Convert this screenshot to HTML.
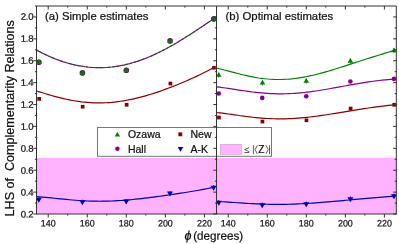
<!DOCTYPE html><html><head><meta charset="utf-8"><style>html,body{margin:0;padding:0;background:#fff}body{width:399px;height:244px;overflow:hidden}</style></head><body><div style="will-change:transform;position:absolute;left:0;top:0;width:399px;height:244px"><svg width="399" height="244" viewBox="0 0 399 244" style="display:block;font-family:'Liberation Sans',sans-serif"><style>text{stroke:#111;stroke-width:0.22px}</style>
<rect x="36.5" y="157.9" width="359.8" height="56.099999999999994" fill="#ffb3ff"/>
<defs><clipPath id="cl"><rect x="36.5" y="6.0" width="180.0" height="208.0"/></clipPath><clipPath id="cr"><rect x="216.5" y="6.0" width="179.8" height="208.0"/></clipPath></defs>
<circle cx="38.90" cy="62.20" r="2.8" fill="#7a007a"/>
<path d="M36.10,64.12 L41.70,64.12 L38.90,59.12Z" fill="#008a00"/>
<path d="M38.90,59.80 V64.60" stroke="#006400" stroke-width="0.6" fill="none"/>
<circle cx="82.40" cy="72.90" r="2.8" fill="#7a007a"/>
<path d="M79.60,74.82 L85.20,74.82 L82.40,69.82Z" fill="#008a00"/>
<path d="M82.40,70.50 V75.30" stroke="#006400" stroke-width="0.6" fill="none"/>
<circle cx="126.30" cy="70.30" r="2.8" fill="#7a007a"/>
<path d="M123.50,72.22 L129.10,72.22 L126.30,67.22Z" fill="#008a00"/>
<path d="M126.30,67.90 V72.70" stroke="#006400" stroke-width="0.6" fill="none"/>
<circle cx="170.05" cy="40.90" r="2.8" fill="#7a007a"/>
<path d="M167.25,42.82 L172.85,42.82 L170.05,37.82Z" fill="#008a00"/>
<path d="M170.05,38.50 V43.30" stroke="#006400" stroke-width="0.6" fill="none"/>
<circle cx="213.80" cy="18.90" r="2.8" fill="#7a007a"/>
<path d="M211.00,20.82 L216.60,20.82 L213.80,15.82Z" fill="#008a00"/>
<path d="M213.80,16.50 V21.30" stroke="#006400" stroke-width="0.6" fill="none"/>
<rect x="37.30" y="97.05" width="3.7" height="3.7" fill="#8b0000"/>
<rect x="80.80" y="104.85" width="3.7" height="3.7" fill="#8b0000"/>
<rect x="124.80" y="102.95" width="3.7" height="3.7" fill="#8b0000"/>
<rect x="168.55" y="81.70" width="3.7" height="3.7" fill="#8b0000"/>
<rect x="212.15" y="65.95" width="3.7" height="3.7" fill="#8b0000"/>
<path d="M38.75,197.30 V201.70" stroke="#0000b0" stroke-width="0.8" fill="none"/>
<path d="M35.75,197.83 L41.75,197.83 L38.75,202.83Z" fill="#0000b0"/>
<path d="M82.40,199.70 V204.10" stroke="#0000b0" stroke-width="0.8" fill="none"/>
<path d="M79.40,200.23 L85.40,200.23 L82.40,205.23Z" fill="#0000b0"/>
<path d="M126.25,199.00 V203.40" stroke="#0000b0" stroke-width="0.8" fill="none"/>
<path d="M123.25,199.53 L129.25,199.53 L126.25,204.53Z" fill="#0000b0"/>
<path d="M170.00,191.00 V195.40" stroke="#0000b0" stroke-width="0.8" fill="none"/>
<path d="M167.00,191.53 L173.00,191.53 L170.00,196.53Z" fill="#0000b0"/>
<path d="M213.60,185.10 V189.50" stroke="#0000b0" stroke-width="0.8" fill="none"/>
<path d="M210.60,185.63 L216.60,185.63 L213.60,190.63Z" fill="#0000b0"/>
<path d="M218.75,72.60 V77.80" stroke="#008000" stroke-width="0.8" fill="none"/>
<path d="M215.95,76.80 L221.55,76.80 L218.75,72.00Z" fill="#008000"/>
<path d="M262.50,80.40 V85.60" stroke="#008000" stroke-width="0.8" fill="none"/>
<path d="M259.70,84.60 L265.30,84.60 L262.50,79.80Z" fill="#008000"/>
<path d="M306.25,78.50 V83.70" stroke="#008000" stroke-width="0.8" fill="none"/>
<path d="M303.45,82.70 L309.05,82.70 L306.25,77.90Z" fill="#008000"/>
<path d="M350.40,58.50 V63.70" stroke="#008000" stroke-width="0.8" fill="none"/>
<path d="M347.60,62.70 L353.20,62.70 L350.40,57.90Z" fill="#008000"/>
<path d="M394.00,48.00 V53.20" stroke="#008000" stroke-width="0.8" fill="none"/>
<path d="M391.20,52.20 L396.80,52.20 L394.00,47.40Z" fill="#008000"/>
<circle cx="218.75" cy="93.50" r="2.3" fill="#8b008b"/>
<circle cx="262.25" cy="97.90" r="2.3" fill="#8b008b"/>
<circle cx="306.25" cy="96.25" r="2.3" fill="#8b008b"/>
<circle cx="350.40" cy="81.50" r="2.3" fill="#8b008b"/>
<circle cx="394.00" cy="78.90" r="2.3" fill="#8b008b"/>
<rect x="217.10" y="115.70" width="3.7" height="3.7" fill="#8b0000"/>
<rect x="260.60" y="119.70" width="3.7" height="3.7" fill="#8b0000"/>
<rect x="304.60" y="118.45" width="3.7" height="3.7" fill="#8b0000"/>
<rect x="348.75" y="106.70" width="3.7" height="3.7" fill="#8b0000"/>
<rect x="392.35" y="102.95" width="3.7" height="3.7" fill="#8b0000"/>
<path d="M218.75,200.10 V204.90" stroke="#0000b0" stroke-width="0.8" fill="none"/>
<path d="M215.75,200.83 L221.75,200.83 L218.75,205.83Z" fill="#0000b0"/>
<path d="M262.25,202.40 V207.20" stroke="#0000b0" stroke-width="0.8" fill="none"/>
<path d="M259.25,203.13 L265.25,203.13 L262.25,208.13Z" fill="#0000b0"/>
<path d="M306.25,201.50 V206.30" stroke="#0000b0" stroke-width="0.8" fill="none"/>
<path d="M303.25,202.23 L309.25,202.23 L306.25,207.23Z" fill="#0000b0"/>
<path d="M350.40,196.40 V201.20" stroke="#0000b0" stroke-width="0.8" fill="none"/>
<path d="M347.40,197.13 L353.40,197.13 L350.40,202.13Z" fill="#0000b0"/>
<path d="M394.00,193.40 V198.20" stroke="#0000b0" stroke-width="0.8" fill="none"/>
<path d="M391.00,194.13 L397.00,194.13 L394.00,199.13Z" fill="#0000b0"/>
<g clip-path="url(#cl)" fill="none" stroke-width="1.18">
<path d="M36.50,50.03 L39.51,51.64 L42.51,53.18 L45.52,54.64 L48.52,56.03 L51.53,57.34 L54.53,58.58 L57.54,59.74 L60.54,60.82 L63.55,61.83 L66.55,62.76 L69.56,63.60 L72.56,64.37 L75.57,65.06 L78.57,65.67 L81.58,66.20 L84.58,66.65 L87.59,67.01 L90.59,67.30 L93.60,67.50 L96.60,67.62 L99.61,67.66 L102.61,67.62 L105.62,67.49 L108.62,67.29 L111.63,67.00 L114.63,66.64 L117.64,66.19 L120.64,65.66 L123.65,65.06 L126.65,64.37 L129.66,63.61 L132.66,62.78 L135.67,61.87 L138.67,60.88 L141.68,59.82 L144.68,58.69 L147.69,57.50 L150.69,56.23 L153.70,54.90 L156.70,53.50 L159.71,52.05 L162.71,50.53 L165.72,48.96 L168.72,47.33 L171.73,45.66 L174.73,43.93 L177.74,42.16 L180.74,40.35 L183.75,38.50 L186.75,36.62 L189.76,34.70 L192.76,32.76 L195.77,30.80 L198.77,28.82 L201.78,26.83 L204.78,24.83 L207.79,22.82 L210.79,20.82 L213.80,18.83" stroke="#8b008b"/>
<path d="M36.50,50.03 L39.51,51.64 L42.51,53.18 L45.52,54.64 L48.52,56.03 L51.53,57.34 L54.53,58.58 L57.54,59.74 L60.54,60.82 L63.55,61.83 L66.55,62.76 L69.56,63.60 L72.56,64.37 L75.57,65.06 L78.57,65.67 L81.58,66.20 L84.58,66.65 L87.59,67.01 L90.59,67.30 L93.60,67.50 L96.60,67.62 L99.61,67.66 L102.61,67.62 L105.62,67.49 L108.62,67.29 L111.63,67.00 L114.63,66.64 L117.64,66.19 L120.64,65.66 L123.65,65.06 L126.65,64.37 L129.66,63.61 L132.66,62.78 L135.67,61.87 L138.67,60.88 L141.68,59.82 L144.68,58.69 L147.69,57.50 L150.69,56.23 L153.70,54.90 L156.70,53.50 L159.71,52.05 L162.71,50.53 L165.72,48.96 L168.72,47.33 L171.73,45.66 L174.73,43.93 L177.74,42.16 L180.74,40.35 L183.75,38.50 L186.75,36.62 L189.76,34.70 L192.76,32.76 L195.77,30.80 L198.77,28.82 L201.78,26.83 L204.78,24.83 L207.79,22.82 L210.79,20.82 L213.80,18.83" stroke="#007000" stroke-width="1.05" stroke-dasharray="2.0 2.4"/>
<path d="M36.50,90.96 L39.51,91.88 L42.51,92.80 L45.52,93.71 L48.52,94.61 L51.53,95.47 L54.53,96.31 L57.54,97.11 L60.54,97.88 L63.55,98.60 L66.55,99.27 L69.56,99.89 L72.56,100.46 L75.57,100.97 L78.57,101.43 L81.58,101.83 L84.58,102.16 L87.59,102.43 L90.59,102.64 L93.60,102.79 L96.60,102.87 L99.61,102.89 L102.61,102.85 L105.62,102.74 L108.62,102.57 L111.63,102.34 L114.63,102.04 L117.64,101.69 L120.64,101.28 L123.65,100.81 L126.65,100.28 L129.66,99.70 L132.66,99.07 L135.67,98.39 L138.67,97.66 L141.68,96.88 L144.68,96.06 L147.69,95.19 L150.69,94.28 L153.70,93.34 L156.70,92.35 L159.71,91.33 L162.71,90.27 L165.72,89.17 L168.72,88.05 L171.73,86.89 L174.73,85.71 L177.74,84.49 L180.74,83.24 L183.75,81.97 L186.75,80.67 L189.76,79.34 L192.76,77.98 L195.77,76.59 L198.77,75.17 L201.78,73.72 L204.78,72.24 L207.79,70.73 L210.79,69.18 L213.80,67.59" stroke="#8b0000"/>
<path d="M36.50,196.67 L39.51,196.85 L42.51,197.08 L45.52,197.34 L48.52,197.62 L51.53,197.92 L54.53,198.23 L57.54,198.54 L60.54,198.85 L63.55,199.16 L66.55,199.46 L69.56,199.74 L72.56,200.00 L75.57,200.24 L78.57,200.47 L81.58,200.66 L84.58,200.83 L87.59,200.97 L90.59,201.08 L93.60,201.16 L96.60,201.21 L99.61,201.23 L102.61,201.21 L105.62,201.17 L108.62,201.09 L111.63,200.99 L114.63,200.86 L117.64,200.69 L120.64,200.51 L123.65,200.29 L126.65,200.06 L129.66,199.79 L132.66,199.51 L135.67,199.21 L138.67,198.89 L141.68,198.55 L144.68,198.20 L147.69,197.83 L150.69,197.46 L153.70,197.07 L156.70,196.67 L159.71,196.26 L162.71,195.84 L165.72,195.41 L168.72,194.98 L171.73,194.54 L174.73,194.10 L177.74,193.65 L180.74,193.19 L183.75,192.72 L186.75,192.25 L189.76,191.77 L192.76,191.27 L195.77,190.76 L198.77,190.24 L201.78,189.69 L204.78,189.13 L207.79,188.54 L210.79,187.91 L213.80,187.26" stroke="#0000b0"/>
</g>
<g clip-path="url(#cr)" fill="none" stroke-width="1.18">
<path d="M216.50,68.01 L219.51,68.73 L222.52,69.48 L225.54,70.27 L228.55,71.08 L231.56,71.89 L234.57,72.69 L237.58,73.48 L240.59,74.24 L243.61,74.98 L246.62,75.67 L249.63,76.33 L252.64,76.93 L255.65,77.47 L258.67,77.96 L261.68,78.38 L264.69,78.74 L267.70,79.03 L270.71,79.25 L273.73,79.40 L276.74,79.47 L279.75,79.48 L282.76,79.42 L285.77,79.28 L288.78,79.08 L291.80,78.81 L294.81,78.47 L297.82,78.07 L300.83,77.61 L303.84,77.09 L306.86,76.52 L309.87,75.89 L312.88,75.22 L315.89,74.50 L318.90,73.74 L321.92,72.94 L324.93,72.11 L327.94,71.24 L330.95,70.35 L333.96,69.44 L336.97,68.50 L339.99,67.55 L343.00,66.59 L346.01,65.62 L349.02,64.64 L352.03,63.66 L355.05,62.68 L358.06,61.70 L361.07,60.73 L364.08,59.75 L367.09,58.79 L370.11,57.83 L373.12,56.89 L376.13,55.95 L379.14,55.02 L382.15,54.09 L385.16,53.17 L388.18,52.26 L391.19,51.35 L394.20,50.43" stroke="#008000"/>
<path d="M216.50,86.82 L219.51,87.17 L222.52,87.56 L225.54,87.99 L228.55,88.43 L231.56,88.89 L234.57,89.36 L237.58,89.84 L240.59,90.30 L243.61,90.75 L246.62,91.19 L249.63,91.60 L252.64,91.99 L255.65,92.35 L258.67,92.67 L261.68,92.96 L264.69,93.21 L267.70,93.42 L270.71,93.59 L273.73,93.71 L276.74,93.79 L279.75,93.82 L282.76,93.81 L285.77,93.76 L288.78,93.66 L291.80,93.51 L294.81,93.33 L297.82,93.10 L300.83,92.83 L303.84,92.53 L306.86,92.19 L309.87,91.82 L312.88,91.42 L315.89,90.98 L318.90,90.52 L321.92,90.04 L324.93,89.54 L327.94,89.02 L330.95,88.49 L333.96,87.95 L336.97,87.39 L339.99,86.84 L343.00,86.28 L346.01,85.72 L349.02,85.17 L352.03,84.63 L355.05,84.09 L358.06,83.57 L361.07,83.07 L364.08,82.58 L367.09,82.12 L370.11,81.68 L373.12,81.27 L376.13,80.89 L379.14,80.53 L382.15,80.21 L385.16,79.92 L388.18,79.67 L391.19,79.45 L394.20,79.27" stroke="#8b008b"/>
<path d="M216.50,112.49 L219.51,112.82 L222.52,113.19 L225.54,113.58 L228.55,114.00 L231.56,114.42 L234.57,114.86 L237.58,115.29 L240.59,115.72 L243.61,116.13 L246.62,116.53 L249.63,116.90 L252.64,117.25 L255.65,117.57 L258.67,117.87 L261.68,118.12 L264.69,118.34 L267.70,118.53 L270.71,118.67 L273.73,118.78 L276.74,118.84 L279.75,118.87 L282.76,118.85 L285.77,118.79 L288.78,118.70 L291.80,118.56 L294.81,118.39 L297.82,118.18 L300.83,117.94 L303.84,117.66 L306.86,117.35 L309.87,117.02 L312.88,116.66 L315.89,116.27 L318.90,115.86 L321.92,115.43 L324.93,114.98 L327.94,114.52 L330.95,114.04 L333.96,113.55 L336.97,113.06 L339.99,112.56 L343.00,112.06 L346.01,111.56 L349.02,111.06 L352.03,110.56 L355.05,110.07 L358.06,109.59 L361.07,109.12 L364.08,108.66 L367.09,108.21 L370.11,107.77 L373.12,107.35 L376.13,106.94 L379.14,106.55 L382.15,106.17 L385.16,105.81 L388.18,105.46 L391.19,105.12 L394.20,104.79" stroke="#8b0000"/>
<path d="M216.50,201.41 L219.51,201.56 L222.52,201.73 L225.54,201.92 L228.55,202.11 L231.56,202.32 L234.57,202.53 L237.58,202.73 L240.59,202.94 L243.61,203.13 L246.62,203.32 L249.63,203.50 L252.64,203.67 L255.65,203.82 L258.67,203.95 L261.68,204.07 L264.69,204.17 L267.70,204.25 L270.71,204.31 L273.73,204.34 L276.74,204.36 L279.75,204.36 L282.76,204.34 L285.77,204.29 L288.78,204.23 L291.80,204.14 L294.81,204.04 L297.82,203.92 L300.83,203.78 L303.84,203.62 L306.86,203.45 L309.87,203.26 L312.88,203.06 L315.89,202.85 L318.90,202.62 L321.92,202.39 L324.93,202.14 L327.94,201.89 L330.95,201.63 L333.96,201.36 L336.97,201.09 L339.99,200.82 L343.00,200.54 L346.01,200.27 L349.02,199.99 L352.03,199.71 L355.05,199.44 L358.06,199.16 L361.07,198.89 L364.08,198.62 L367.09,198.36 L370.11,198.10 L373.12,197.84 L376.13,197.59 L379.14,197.34 L382.15,197.09 L385.16,196.84 L388.18,196.60 L391.19,196.36 L394.20,196.11" stroke="#0000b0"/>
</g>
<rect x="97.5" y="127.5" width="174" height="28.8" fill="#fff" stroke="#777" stroke-width="1"/>
<path d="M114.70,136.53 L120.10,136.53 L117.40,131.93Z" fill="#008000"/>
<circle cx="117.40" cy="148.70" r="2.2" fill="#8b008b"/>
<rect x="178.35" y="132.35" width="3.9" height="3.9" fill="#8b0000"/>
<path d="M177.70,147.00 L183.30,147.00 L180.50,151.80Z" fill="#0000c8"/>
<g font-size="10.5px" fill="#111">
<text x="127.9" y="137.6">Ozawa</text>
<text x="127.9" y="152.7">Hall</text>
<text x="190.5" y="137.6">New</text>
<text x="190.5" y="152.7">A-K</text>
</g>
<rect x="220.3" y="144.3" width="21" height="10" fill="#ffb3ff" stroke="#c9a0c9" stroke-width="0.6"/>
<text x="244.2" y="152.5" font-size="9.4px" fill="#222" style="stroke:none">≤</text>
<text x="258.2" y="152.7" font-size="10.2px" fill="#111">Z</text>
<path d="M253.4,145.2 V154.0 M269.5,145.2 V154.0 M257.4,145.3 L255.1,149.6 L257.4,153.9 M265.9,145.3 L268.2,149.6 L265.9,153.9" fill="none" stroke="#333" stroke-width="0.8"/>
<g stroke="#333" stroke-width="1" fill="none">
<path d="M36.5,6.0 H396.3 V214.0 H36.5Z M35.0,6.0 H36.5"/>
<path d="M216.5,6.0 V214.0"/>
<path d="M37.2,214.00 h-3.9000000000000004 M217.2,214.00 h-3.9000000000000004 M397.0,214.00 h-3.9000000000000004 M37.2,203.05 h-2.3 M217.2,203.05 h-2.3 M397.0,203.05 h-2.3 M37.2,192.11 h-3.9000000000000004 M217.2,192.11 h-3.9000000000000004 M397.0,192.11 h-3.9000000000000004 M37.2,181.16 h-2.3 M217.2,181.16 h-2.3 M397.0,181.16 h-2.3 M37.2,170.21 h-3.9000000000000004 M217.2,170.21 h-3.9000000000000004 M397.0,170.21 h-3.9000000000000004 M37.2,159.27 h-2.3 M217.2,159.27 h-2.3 M397.0,159.27 h-2.3 M37.2,148.32 h-3.9000000000000004 M217.2,148.32 h-3.9000000000000004 M397.0,148.32 h-3.9000000000000004 M37.2,137.37 h-2.3 M217.2,137.37 h-2.3 M397.0,137.37 h-2.3 M37.2,126.42 h-3.9000000000000004 M217.2,126.42 h-3.9000000000000004 M397.0,126.42 h-3.9000000000000004 M37.2,115.48 h-2.3 M217.2,115.48 h-2.3 M397.0,115.48 h-2.3 M37.2,104.53 h-3.9000000000000004 M217.2,104.53 h-3.9000000000000004 M397.0,104.53 h-3.9000000000000004 M37.2,93.58 h-2.3 M217.2,93.58 h-2.3 M397.0,93.58 h-2.3 M37.2,82.64 h-3.9000000000000004 M217.2,82.64 h-3.9000000000000004 M397.0,82.64 h-3.9000000000000004 M37.2,71.69 h-2.3 M217.2,71.69 h-2.3 M397.0,71.69 h-2.3 M37.2,60.74 h-3.9000000000000004 M217.2,60.74 h-3.9000000000000004 M397.0,60.74 h-3.9000000000000004 M37.2,49.80 h-2.3 M217.2,49.80 h-2.3 M397.0,49.80 h-2.3 M37.2,38.85 h-3.9000000000000004 M217.2,38.85 h-3.9000000000000004 M397.0,38.85 h-3.9000000000000004 M37.2,27.90 h-2.3 M217.2,27.90 h-2.3 M397.0,27.90 h-2.3 M37.2,16.95 h-3.9000000000000004 M217.2,16.95 h-3.9000000000000004 M397.0,16.95 h-3.9000000000000004 M48.22,214.0 v3.5 M48.22,6.0 v3.5 M67.74,214.0 v1.6 M67.74,6.0 v1.6 M87.27,214.0 v3.5 M87.27,6.0 v3.5 M106.79,214.0 v1.6 M106.79,6.0 v1.6 M126.31,214.0 v3.5 M126.31,6.0 v3.5 M145.84,214.0 v1.6 M145.84,6.0 v1.6 M165.36,214.0 v3.5 M165.36,6.0 v3.5 M184.89,214.0 v1.6 M184.89,6.0 v1.6 M204.41,214.0 v3.5 M204.41,6.0 v3.5 M228.22,214.0 v3.5 M228.22,6.0 v3.5 M247.74,214.0 v1.6 M247.74,6.0 v1.6 M267.26,214.0 v3.5 M267.26,6.0 v3.5 M286.79,214.0 v1.6 M286.79,6.0 v1.6 M306.31,214.0 v3.5 M306.31,6.0 v3.5 M325.84,214.0 v1.6 M325.84,6.0 v1.6 M345.37,214.0 v3.5 M345.37,6.0 v3.5 M364.89,214.0 v1.6 M364.89,6.0 v1.6 M384.41,214.0 v3.5 M384.41,6.0 v3.5"/>
</g>
<g font-size="9.4px" fill="#111">
<text transform="translate(33.3,217.60) rotate(0.03) scale(1.02,1)" text-anchor="end" letter-spacing="-0.25">0.2</text>
<text transform="translate(33.3,195.63) rotate(0.03) scale(1.02,1)" text-anchor="end" letter-spacing="-0.25">0.4</text>
<text transform="translate(33.3,173.66) rotate(0.03) scale(1.02,1)" text-anchor="end" letter-spacing="-0.25">0.6</text>
<text transform="translate(33.3,151.68) rotate(0.03) scale(1.02,1)" text-anchor="end" letter-spacing="-0.25">0.8</text>
<text transform="translate(33.3,129.71) rotate(0.03) scale(1.02,1)" text-anchor="end" letter-spacing="-0.25">1.0</text>
<text transform="translate(33.3,107.74) rotate(0.03) scale(1.02,1)" text-anchor="end" letter-spacing="-0.25">1.2</text>
<text transform="translate(33.3,85.77) rotate(0.03) scale(1.02,1)" text-anchor="end" letter-spacing="-0.25">1.4</text>
<text transform="translate(33.3,63.80) rotate(0.03) scale(1.02,1)" text-anchor="end" letter-spacing="-0.25">1.6</text>
<text transform="translate(33.3,41.83) rotate(0.03) scale(1.02,1)" text-anchor="end" letter-spacing="-0.25">1.8</text>
<text transform="translate(33.3,19.85) rotate(0.03) scale(1.02,1)" text-anchor="end" letter-spacing="-0.25">2.0</text>
<text transform="translate(48.22,226.5) rotate(0.03) scale(0.95,1)" text-anchor="middle">140</text>
<text transform="translate(87.27,226.5) rotate(0.03) scale(0.95,1)" text-anchor="middle">160</text>
<text transform="translate(126.31,226.5) rotate(0.03) scale(0.95,1)" text-anchor="middle">180</text>
<text transform="translate(165.36,226.5) rotate(0.03) scale(0.95,1)" text-anchor="middle">200</text>
<text transform="translate(204.41,226.5) rotate(0.03) scale(0.95,1)" text-anchor="middle">220</text>
<text transform="translate(228.22,226.5) rotate(0.03) scale(0.95,1)" text-anchor="middle">140</text>
<text transform="translate(267.26,226.5) rotate(0.03) scale(0.95,1)" text-anchor="middle">160</text>
<text transform="translate(306.31,226.5) rotate(0.03) scale(0.95,1)" text-anchor="middle">180</text>
<text transform="translate(345.37,226.5) rotate(0.03) scale(0.95,1)" text-anchor="middle">200</text>
<text transform="translate(384.41,226.5) rotate(0.03) scale(0.95,1)" text-anchor="middle">220</text>
</g>
 <text x="45.0" y="20.3" font-size="11.35px" fill="#111">(a) Simple estimates</text>
 <text x="225.5" y="20.3" font-size="11.35px" fill="#111">(b) Optimal estimates</text>
<text transform="translate(184.4,239.8) rotate(0.03)" font-size="12.6px" font-style="italic" fill="#111">ϕ</text>
<text transform="translate(193.2,239.8) rotate(0.03)" font-size="11.68px" fill="#111">(degrees)</text>
<text transform="translate(14.0,118.3) rotate(-90)" font-size="12.57px" fill="#111" text-anchor="middle" xml:space="preserve">LHS of  Complementarity Relations</text>
</svg></div></body></html>
